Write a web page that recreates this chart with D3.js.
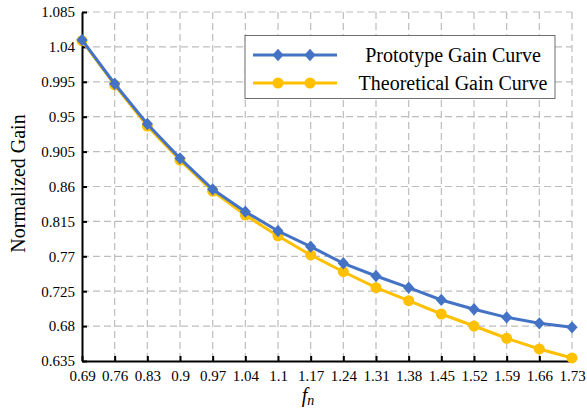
<!DOCTYPE html>
<html>
<head>
<meta charset="utf-8">
<script src="https://cdn.jsdelivr.net/npm/d3@7/dist/d3.min.js"></script>
<style>
html,body{margin:0;padding:0;background:#fff;}
svg{display:block;}
svg text{font-family:"Liberation Serif","Times New Roman",serif !important;}
</style>
</head>
<body>
<svg id="chart" width="587" height="415"></svg>
<script>
const categories = ["0.69","0.76","0.83","0.9","0.97","1.04","1.1","1.17","1.24","1.31","1.38","1.45","1.52","1.59","1.66","1.73"];
const prototypeGain = [1.049,0.9925,0.9406,0.8963,0.8564,0.8275,0.8026,0.7824,0.761,0.7446,0.7295,0.7137,0.7017,0.6913,0.6836,0.6784];
const theoreticalGain = [1.048,0.991,0.938,0.894,0.854,0.8232,0.7962,0.7717,0.7501,0.7295,0.7128,0.6956,0.6801,0.6643,0.6505,0.6389];
const yTicks = [0.635,0.68,0.725,0.77,0.815,0.86,0.905,0.95,0.995,1.04,1.085];
const seriesNames = ["Prototype Gain Curve","Theoretical Gain Curve"];

const svg = d3.select("#chart");
const mLeft = 82, mRight = 572, mTop = 12, mBottom = 361;
const serif = '"Liberation Serif","Times New Roman",serif';

const x = d3.scalePoint().domain(categories).range([mLeft, mRight]);
const y = d3.scaleLinear().domain([0.635, 1.085]).range([mBottom, mTop]);

// grid
const grid = svg.append("g");
grid.selectAll("line.h").data(yTicks.slice(1)).enter().append("line")
  .attr("x1", mLeft).attr("x2", mRight)
  .attr("y1", d => y(d)).attr("y2", d => y(d))
  .attr("stroke", "#bdbdbd").attr("stroke-width", 1.2).attr("stroke-dasharray", "7,4");
grid.selectAll("line.v").data(categories.slice(1)).enter().append("line")
  .attr("x1", d => x(d)).attr("x2", d => x(d))
  .attr("y1", mTop).attr("y2", mBottom)
  .attr("stroke", "#bdbdbd").attr("stroke-width", 1.2).attr("stroke-dasharray", "7,4");

// axes
const xAxis = d3.axisBottom(x).tickSizeInner(-5).tickSizeOuter(0).tickPadding(9);
const gx = svg.append("g").attr("transform", `translate(0,${mBottom})`).call(xAxis).attr("font-family", serif);
gx.select(".domain").attr("stroke", "#000").attr("stroke-width", 2);
gx.selectAll(".tick line").attr("stroke", "#000").attr("stroke-width", 2);
gx.selectAll(".tick text").style("font-size", "15px").attr("fill", "#000");

const yAxis = d3.axisLeft(y).tickValues(yTicks).tickFormat(d => String(d)).tickSizeInner(-5).tickSizeOuter(0).tickPadding(7);
const gy = svg.append("g").attr("transform", `translate(${mLeft},0)`).call(yAxis).attr("font-family", serif);
gy.select(".domain").attr("stroke", "#000").attr("stroke-width", 2);
gy.selectAll(".tick line").attr("stroke", "#000").attr("stroke-width", 2);
gy.selectAll(".tick text").style("font-size", "15px").attr("fill", "#000");

const blue = "#4472C4", gold = "#FFC000";
const line = d3.line().x((d, i) => x(categories[i])).y(d => y(d));

// theoretical (under)
svg.append("path").datum(theoreticalGain).attr("d", line)
  .attr("fill", "none").attr("stroke", gold).attr("stroke-width", 3);
svg.selectAll("circle.t").data(theoreticalGain).enter().append("circle")
  .attr("cx", (d, i) => x(categories[i])).attr("cy", d => y(d)).attr("r", 5.5).attr("fill", gold);

// prototype
const diamond = d3.symbol().type(d3.symbolDiamond2).size(80);
svg.append("path").datum(prototypeGain).attr("d", line)
  .attr("fill", "none").attr("stroke", blue).attr("stroke-width", 3);
svg.selectAll("path.p").data(prototypeGain).enter().append("path")
  .attr("d", diamond)
  .attr("transform", (d, i) => `translate(${x(categories[i])},${y(d)}) scale(1,1.1)`)
  .attr("fill", blue);

// axis titles
svg.append("text").attr("transform", "translate(25,183.5) rotate(-90)")
  .attr("text-anchor", "middle").style("font-size", "20px").attr("fill", "#000").text("Normalized Gain");
const xt = svg.append("text").attr("x", 308).attr("y", 402).attr("text-anchor", "middle")
  .style("font-size", "20px").attr("font-style", "italic").attr("fill", "#000");
xt.append("tspan").text("f");
xt.append("tspan").style("font-size", "14px").attr("dy", 3).text("n");

// legend
const lg = svg.append("g");
lg.append("rect").attr("x", 245).attr("y", 35.5).attr("width", 310).attr("height", 63)
  .attr("fill", "#fff").attr("stroke", "#6e6e6e").attr("stroke-width", 1);
const rows = [
  {name: seriesNames[0], color: blue, kind: "d", cy: 55},
  {name: seriesNames[1], color: gold, kind: "c", cy: 83}
];
rows.forEach(r => {
  lg.append("line").attr("x1", 253).attr("x2", 337).attr("y1", r.cy).attr("y2", r.cy)
    .attr("stroke", r.color).attr("stroke-width", 3);
  [278, 310].forEach(mx => {
    if (r.kind === "d") {
      lg.append("path").attr("d", diamond).attr("transform", `translate(${mx},${r.cy}) scale(1,1.1)`).attr("fill", r.color);
    } else {
      lg.append("circle").attr("cx", mx).attr("cy", r.cy).attr("r", 5.5).attr("fill", r.color);
    }
  });
  lg.append("text").attr("x", 453).attr("y", r.cy + 7).attr("text-anchor", "middle")
    .style("font-size", "20px").attr("fill", "#000").text(r.name);
});
</script>
</body>
</html>
